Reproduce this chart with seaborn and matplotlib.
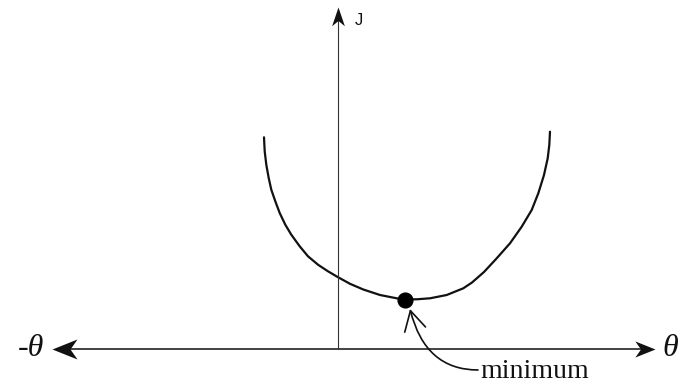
import matplotlib
matplotlib.use("Agg")
import matplotlib.pyplot as plt
from matplotlib.path import Path
import seaborn as sns
import pandas as pd

# Curve J(theta), values
theta = [-0.74, -0.733, -0.717, -0.693, -0.667, -0.627, -0.583, -0.527, -0.467,
         -0.383, -0.30, -0.20, -0.10, -0.007, 0.12, 0.253, 0.42, 0.587, 0.67,
         0.787, 0.92, 1.087, 1.253, 1.34, 1.46, 1.587, 1.72, 1.837, 1.937,
         2.003, 2.06, 2.097, 2.113, 2.12]
J = [2.117, 1.977, 1.843, 1.71, 1.593, 1.477, 1.36, 1.243, 1.143,
     1.027, 0.927, 0.843, 0.777, 0.722, 0.652, 0.595, 0.54, 0.507, 0.497,
     0.497, 0.507, 0.54, 0.607, 0.665, 0.77, 0.907, 1.057, 1.223, 1.39,
     1.557, 1.74, 1.907, 2.04, 2.173]
min_theta = [0.67]
min_J = [0.495]

sns.set_theme(style="white")
plt.rcParams['font.family'] = ['Liberation Serif', 'DejaVu Serif']

fig = plt.figure(figsize=(6.81, 3.85), dpi=100)
ax = fig.add_axes([0, 0, 1, 1])
ax.set_xlim(-3.38, 3.43)
ax.set_ylim(-0.36, 3.49)
ax.axis("off")

ink = "#111111"

df = pd.DataFrame({"theta": theta, "J": J})
sns.lineplot(data=df, x="theta", y="J", sort=False, estimator=None,
             color=ink, linewidth=1.6, ax=ax)
sns.scatterplot(x=min_theta, y=min_J, s=135, color="#000000",
                edgecolor="#000000", linewidth=0, ax=ax, zorder=5)

# notched arrowhead markers (tip at the marker position)
codes = [Path.MOVETO, Path.LINETO, Path.LINETO, Path.LINETO, Path.CLOSEPOLY]
head_left = Path([(0, 0), (1, 0.4), (0.72, 0), (1, -0.4), (0, 0)], codes)
head_right = Path([(0, 0), (-1, 0.4), (-0.72, 0), (-1, -0.4), (0, 0)], codes)
head_up = Path([(0, 0), (0.34, -1), (0, -0.72), (-0.34, -1), (0, 0)], codes)

x_left, x_right, y_top = -2.86, 3.17, 3.42

# horizontal axis
ax.plot([x_left + 0.05, x_right - 0.05], [0, 0], color=ink, lw=1.1)
ax.plot([x_left], [0], marker=head_left, markersize=36, color=ink, mew=0, ls="none")
ax.plot([x_right], [0], marker=head_right, markersize=29, color=ink, mew=0, ls="none")
# vertical axis
ax.plot([0, 0], [0, y_top - 0.05], color="#333333", lw=0.8)
ax.plot([0], [y_top], marker=head_up, markersize=27, color=ink, mew=0, ls="none")

ax.text(3.24, 0.0, "θ", fontsize=23, style="italic", ha="left", va="center",
        color=ink)
ax.text(-2.94, 0.0, "-θ", fontsize=23, style="italic", ha="right", va="center",
        color=ink)
ax.text(0.165, 3.24, "J", fontsize=12, family=["Liberation Sans", "DejaVu Sans"],
        ha="left", va="baseline", color=ink)

# minimum annotation
ax.text(1.42, -0.29, "minimum", fontsize=20, ha="left", va="baseline", color=ink)
ax.annotate("", xy=(0.72, 0.40), xytext=(1.40, -0.21),
            arrowprops=dict(arrowstyle="->,head_length=1.0,head_width=0.55",
                            mutation_scale=14, color=ink, lw=1.2,
                            shrinkA=0, shrinkB=0,
                            connectionstyle="angle3,angleA=0,angleB=104"))

fig.savefig("out.png", dpi=100)
